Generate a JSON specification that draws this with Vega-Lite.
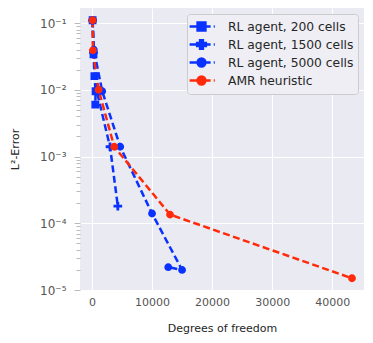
{
  "$schema": "https://vega.github.io/schema/vega-lite/v6.json",
  "autosize": "none",
  "width": 284,
  "height": 282,
  "padding": {"left": 80, "top": 8, "right": 9, "bottom": 53},
  "background": "white",
  "config": {
    "view": {"fill": "#eaeaf2", "stroke": null},
    "font": "DejaVu Sans",
    "axis": {"labelFont": "DejaVu Sans", "titleFont": "DejaVu Sans", "labelColor": "#555", "titleColor": "#262626", "labelFontSize": 11, "titleFontSize": 11, "titleFontWeight": "normal", "gridColor": "white", "gridWidth": 1, "domain": false},
    "legend": {"orient": "top-right", "offset": 6, "symbolSize": 196, "symbolOffset": 2, "labelFontSize": 12.3, "labelColor": "#262626", "labelFont": "DejaVu Sans", "rowPadding": -2, "padding": 4, "fillColor": "#eeeef4", "strokeColor": "#cccccc", "cornerRadius": 3, "labelOffset": 18, "symbolStrokeWidth": 2.5, "symbolDash": [], "symbolOpacity": 1}
  },
  "data": {"values": [
    {"series": "RL agent, 200 cells", "idx": 0, "dof": 100, "err": 0.11},
    {"series": "RL agent, 200 cells", "idx": 1, "dof": 250, "err": 0.034},
    {"series": "RL agent, 200 cells", "idx": 2, "dof": 400, "err": 0.016},
    {"series": "RL agent, 200 cells", "idx": 3, "dof": 600, "err": 0.0095},
    {"series": "RL agent, 200 cells", "idx": 4, "dof": 550, "err": 0.006},
    {"series": "RL agent, 1500 cells", "idx": 0, "dof": 100, "err": 0.11},
    {"series": "RL agent, 1500 cells", "idx": 1, "dof": 250, "err": 0.036},
    {"series": "RL agent, 1500 cells", "idx": 2, "dof": 800, "err": 0.0095},
    {"series": "RL agent, 1500 cells", "idx": 3, "dof": 3000, "err": 0.0014},
    {"series": "RL agent, 1500 cells", "idx": 4, "dof": 4300, "err": 0.00018},
    {"series": "RL agent, 5000 cells", "idx": 0, "dof": 100, "err": 0.11},
    {"series": "RL agent, 5000 cells", "idx": 1, "dof": 300, "err": 0.04},
    {"series": "RL agent, 5000 cells", "idx": 2, "dof": 1700, "err": 0.0095},
    {"series": "RL agent, 5000 cells", "idx": 3, "dof": 4700, "err": 0.0014},
    {"series": "RL agent, 5000 cells", "idx": 4, "dof": 10000, "err": 0.00014},
    {"series": "RL agent, 5000 cells", "idx": 5, "dof": 15000, "err": 0.00002},
    {"series": "RL agent, 5000 cells", "idx": 6, "dof": 12700, "err": 0.000022},
    {"series": "AMR heuristic", "idx": 0, "dof": 100, "err": 0.11},
    {"series": "AMR heuristic", "idx": 1, "dof": 150, "err": 0.039},
    {"series": "AMR heuristic", "idx": 2, "dof": 1100, "err": 0.01},
    {"series": "AMR heuristic", "idx": 3, "dof": 3700, "err": 0.0014},
    {"series": "AMR heuristic", "idx": 4, "dof": 13000, "err": 0.000135},
    {"series": "AMR heuristic", "idx": 5, "dof": 43300, "err": 0.000015}
  ]},
  "encoding": {
    "x": {"field": "dof", "type": "quantitative", "scale": {"domain": [-2000, 45300], "nice": false, "zero": false},
      "axis": {"title": "Degrees of freedom", "values": [0, 10000, 20000, 30000, 40000], "format": "d", "ticks": false, "labelPadding": 6, "titlePadding": 15}},
    "y": {"field": "err", "type": "quantitative", "scale": {"type": "log", "domain": [0.00001, 0.168], "nice": false},
      "axis": {"title": "L²-Error", "titlePadding": 19, "labelFontSize": 12,
        "values": [0.00001,0.00002,0.00003,0.00004,0.00005,0.00006,0.00007,0.00008,0.00009,0.0001,0.0002,0.0003,0.0004,0.0005,0.0006,0.0007,0.0008,0.0009,0.001,0.002,0.003,0.004,0.005,0.006,0.007,0.008,0.009,0.01,0.02,0.03,0.04,0.05,0.06,0.07,0.08,0.09,0.1],
        "labelExpr": "abs(log(datum.value)/LN10 - round(log(datum.value)/LN10)) < 0.000001 ? '10' + replace(replace(replace(replace(replace(replace('-' + format(-round(log(datum.value)/LN10), 'd'), '-', '⁻'), '1', '¹'), '2', '²'), '3', '³'), '4', '⁴'), '5', '⁵') : ''",
        "tickColor": "#bbb",
        "tickSize": {"condition": {"test": "abs(log(datum.value)/LN10 - round(log(datum.value)/LN10)) < 0.000001", "value": 6}, "value": 4},
        "gridOpacity": {"condition": {"test": "abs(log(datum.value)/LN10 - round(log(datum.value)/LN10)) < 0.000001", "value": 1}, "value": 0},
        "labelPadding": 8}},
    "color": {"field": "series", "type": "nominal", "title": null,
      "scale": {"domain": ["RL agent, 200 cells", "RL agent, 1500 cells", "RL agent, 5000 cells", "AMR heuristic"], "range": ["#0a32ff", "#0a32ff", "#0a32ff", "#ff2a0a"]}}
  },
  "layer": [
    {"mark": {"type": "line", "strokeDash": [7, 3.5], "strokeWidth": 2.5},
     "encoding": {"order": {"field": "idx", "type": "quantitative"}, "detail": {"field": "series"}}},
    {"mark": {"type": "point", "filled": true, "opacity": 1, "size": 196},
     "encoding": {
       "shape": {"field": "series", "type": "nominal", "title": null,
         "scale": {"domain": ["RL agent, 200 cells", "RL agent, 1500 cells", "RL agent, 5000 cells", "AMR heuristic"],
           "range": [
             "M-1.7,0H1.3M1.75,0H1.9M-0.56,-0.56H0.56V0.56H-0.56Z",
             "M-1.7,0H1.3M1.75,0H1.9M-0.2,-0.62H0.2V-0.2H0.62V0.2H0.2V0.62H-0.2V0.2H-0.62V-0.2H-0.2Z",
             "M-1.7,0H1.3M1.75,0H1.9M0.56,0A0.56,0.56,0,1,1,-0.56,0A0.56,0.56,0,1,1,0.56,0Z",
             "M-1.7,0H1.3M1.75,0H1.9M0.56,0A0.56,0.56,0,1,1,-0.56,0A0.56,0.56,0,1,1,0.56,0Z"
           ]}}
     }}
  ]
}
